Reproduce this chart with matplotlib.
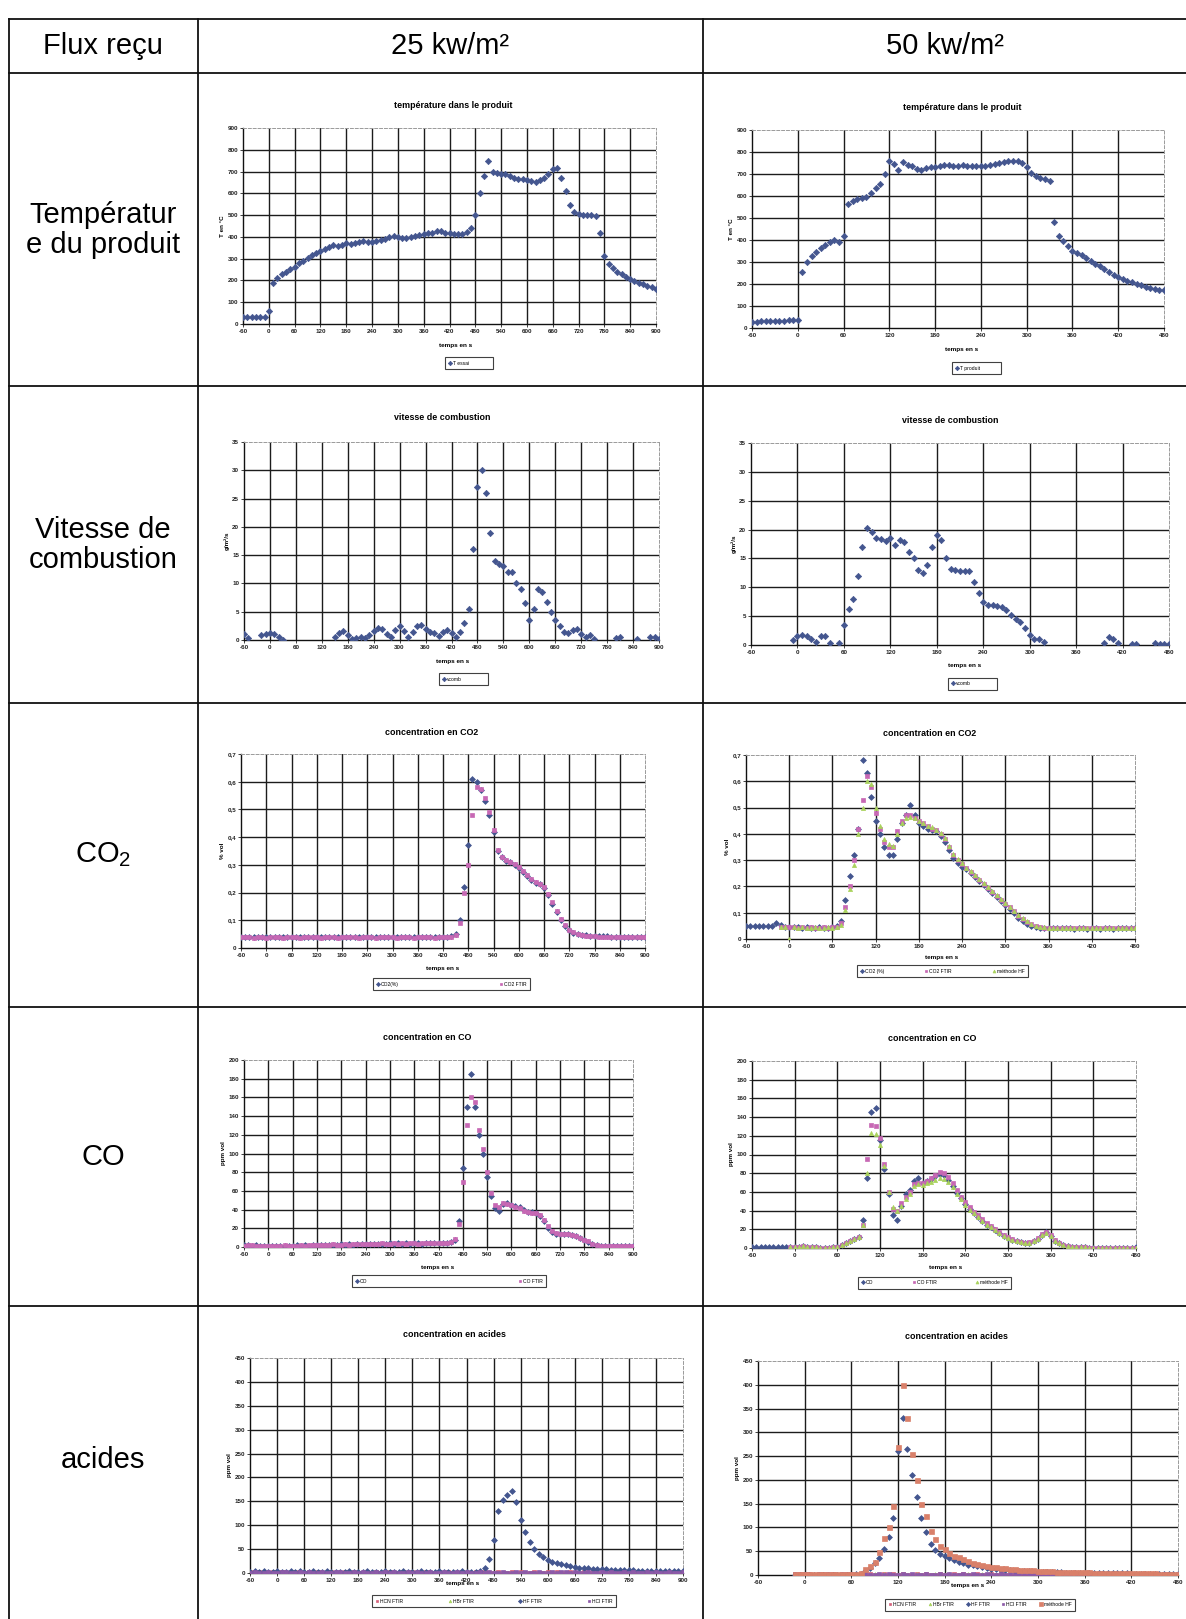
import numpy as np
import matplotlib
matplotlib.use('Agg')
import matplotlib.pyplot as plt

plt.rcParams['font.family'] = ['Liberation Sans', 'DejaVu Sans']
plt.rcParams['mathtext.fontset'] = 'custom'
plt.rcParams['mathtext.rm'] = 'Liberation Sans'

nan = float('nan')

# 25 kW/m2 tests: one reading every 10 s from -60 s ; 50 kW/m2 tests: every 6 s from -60 s
T0 = -60
STEP_25 = 10
STEP_50 = 6

# ---- temperature dans le produit (deg C)
temp_25 = [
    31, 30, 32, 31, 30, 32, 60, 190, 210, 228,         # -60 .. 30
    240, 252, 262, 280, 290, 302, 315, 325, 335, 345,  # 40 .. 130
    355, 362, 358, 365, 370, 368, 372, 375, 380, 378,  # 140 .. 230
    376, 382, 385, 392, 398, 402, 398, 395, 394, 400,  # 240 .. 330
    405, 410, 412, 416, 420, 428, 425, 420, 416, 414,  # 340 .. 430
    412, 415, 422, 440, 500, 600, 680, 750, 700, 695,  # 440 .. 530
    690, 688, 680, 670, 665, 668, 660, 655, 650, 660,  # 540 .. 630
    672, 690, 712, 718, 670, 610, 545, 512, 505, 500,  # 640 .. 730
    500, 502, 498, 420, 310, 275, 255, 240, 228, 218,  # 740 .. 830
    208, 198, 190, 182, 175, 168, 162,                 # 840 .. 900
]
temp_50 = [
    28, 29, 30, 30, 31, 32, 33, 34, 35, 36,            # -60 .. -6
    38, 255, 300, 325, 345, 362, 378, 390, 400, 392,   # 0 .. 54
    420, 565, 575, 585, 590, 595, 615, 635, 655, 700,  # 60 .. 114
    760, 745, 720, 755, 740, 738, 722, 718, 725, 730,  # 120 .. 174
    733, 738, 740, 740, 738, 738, 740, 738, 737, 736,  # 180 .. 234
    735, 738, 740, 745, 750, 755, 758, 760, 760, 752,  # 240 .. 294
    730, 705, 690, 682, 675, 668, 480, 420, 395, 372,  # 300 .. 354
    352, 342, 332, 320, 306, 293, 280, 268, 255, 243,  # 360 .. 414
    230, 222, 214, 207, 200, 194, 188, 182, 178, 174,  # 420 .. 474
    172,                                               # 480
]

# ---- vitesse de combustion (g/m2/s)
vit_25 = [
    1.0, 0.3, nan, nan, 0.8, 1.1, 1.3, 1.0, 0.5, 0.0,  # -60 .. 30
    nan, nan, nan, nan, nan, nan, nan, nan, nan, nan,  # 40 .. 130
    nan, 0.5, 1.2, 1.6, 0.9, 0.2, 0.4, 0.6, 0.3, 0.9,  # 140 .. 230
    1.6, 2.2, 2.0, 1.0, 0.5, 1.8, 2.4, 1.6, 0.6, 1.5,  # 240 .. 330
    2.5, 2.6, 2.0, 1.4, 1.2, 0.7, 1.4, 1.8, 1.2, 0.5,  # 340 .. 430
    1.5, 3.0, 5.5, 16, 27, 30, 26, 19, 14, 13.5,       # 440 .. 530
    13, 12, 12, 10, 9, 6.5, 3.5, 5.5, 9, 8.5,          # 540 .. 630
    6.8, 5, 3.5, 2.5, 1.5, 1.2, 1.8, 2, 1.0, 0.5,      # 640 .. 730
    0.8, 0.2, nan, nan, nan, nan, 0.3, 0.5, nan, nan,  # 740 .. 830
    nan, 0.2, nan, nan, 0.5, 0.6, 0.1,                 # 840 .. 900
]
vit_50 = [
    nan, nan, nan, nan, nan, nan, nan, nan, nan, 0.8,            # -60 .. -6
    1.6, 1.8, 1.5, 1.0, 0.6, 1.5, 1.6, 0.3, nan, 0.4,            # 0 .. 54
    3.5, 6.3, 8.0, 12, 17, 20.3, 19.5, 18.5, 18.3, 18.0,         # 60 .. 114
    18.5, 17.3, 18.2, 17.8, 16.2, 15.0, 13.0, 12.5, 13.8, 17.0,  # 120 .. 174
    19.0, 18.2, 15.0, 13.2, 13.0, 12.8, 12.8, 12.8, 11.0, 9.0,   # 180 .. 234
    7.5, 7.0, 7.0, 6.8, 6.6, 6.0, 5.2, 4.5, 4.0, 3.0,            # 240 .. 294
    1.8, 1.1, 1.0, 0.5, nan, nan, nan, nan, nan, nan,            # 300 .. 354
    nan, nan, nan, nan, nan, nan, 0.4, 1.3, 1.0, 0.4,            # 360 .. 414
    nan, nan, 0.2, 0.1, nan, nan, nan, 0.3, 0.1, 0.1,            # 420 .. 474
    0.1,                                                         # 480
]

# ---- concentration en CO2 (% vol)
co2_25 = [
    .040, .041, .039, .040, .041, .040, .039, .040, .041, .040,  # -60 .. 30
    .040, .039, .040, .041, .040, .040, .039, .040, .041, .040,  # 40 .. 130
    .041, .040, .039, .040, .041, .040, .040, .039, .040, .041,  # 140 .. 230
    .040, .039, .041, .040, .040, .041, .039, .040, .040, .041,  # 240 .. 330
    .040, .041, .040, .039, .040, .041, .040, .040, .041, .040,  # 340 .. 430
    .042, .050, .100, .220, .370, .610, .600, .570, .530, .480,  # 440 .. 530
    .420, .350, .330, .315, .310, .300, .290, .275, .260, .245,  # 540 .. 630
    .235, .230, .215, .190, .160, .130, .100, .080, .065, .055,  # 640 .. 730
    .050, .048, .046, .045, .044, .043, .042, .042, .041, .041,  # 740 .. 830
    .041, .040, .041, .040, .041, .040, .040,                    # 840 .. 900
]
co2_ftir_25 = [
    .038, .039, .038, .037, .039, .038, .037, .038, .039, .038,  # -60 .. 30
    .037, .038, .039, .038, .037, .038, .039, .038, .038, .037,  # 40 .. 130
    .038, .039, .038, .037, .038, .039, .038, .038, .037, .038,  # 140 .. 230
    .039, .038, .037, .038, .039, .038, .038, .037, .039, .038,  # 240 .. 330
    .038, .037, .038, .039, .038, .038, .037, .038, .039, .038,  # 340 .. 430
    .040, .047, .090, .200, .300, .480, .580, .575, .540, .490,  # 440 .. 530
    .425, .355, .328, .318, .312, .302, .292, .278, .262, .248,  # 540 .. 630
    .238, .232, .220, .195, .165, .135, .105, .082, .066, .056,  # 640 .. 730
    .050, .046, .044, .043, .042, .041, .040, .040, .039, .039,  # 740 .. 830
    .039, .038, .039, .038, .039, .038, .039,                    # 840 .. 900
]
co2_50 = [
    .048, .048, .049, .048, .049, .048, .050, .060, .052, .046,  # -60 .. -6
    .045, .044, .044, .043, .044, .043, .043, .044, .043, .043,  # 0 .. 54
    .044, .048, .070, .150, .240, .320, .420, .680, .630, .540,  # 60 .. 114
    .450, .400, .350, .320, .320, .380, .440, .470, .510, .470,  # 120 .. 174
    .440, .430, .420, .415, .410, .390, .370, .340, .310, .290,  # 180 .. 234
    .275, .265, .250, .235, .220, .205, .190, .175, .160, .145,  # 240 .. 294
    .130, .115, .100, .078, .068, .058, .050, .046, .043, .042,  # 300 .. 354
    .041, .040, .040, .041, .040, .040, .039, .040, .040, .039,  # 360 .. 414
    .040, .040, .039, .040, .040, .039, .040, .040, .040, .040,  # 420 .. 474
    .040,                                                        # 480
]
co2_ftir_50 = [
    nan, nan, nan, nan, nan, nan, nan, nan, .046, .045,          # -60 .. -6
    .044, .044, .043, .044, .043, .044, .043, .043, .044, .043,  # 0 .. 54
    .044, .045, .060, .120, .200, .300, .420, .530, .620, .580,  # 60 .. 114
    .480, .420, .370, .350, .350, .410, .450, .470, .470, .460,  # 120 .. 174
    .450, .440, .430, .420, .415, .400, .380, .350, .320, .300,  # 180 .. 234
    .285, .270, .255, .240, .225, .210, .195, .180, .165, .150,  # 240 .. 294
    .135, .120, .105, .088, .076, .065, .056, .049, .045, .043,  # 300 .. 354
    .042, .041, .041, .040, .041, .040, .040, .041, .040, .040,  # 360 .. 414
    .040, .041, .040, .040, .041, .040, .040, .041, .040, .040,  # 420 .. 474
    .041,                                                        # 480
]
co2_hf_50 = [
    nan, nan, nan, nan, nan, nan, nan, nan, .047, .046,          # -60 .. -6
    .000, .044, .043, .044, .043, .043, .044, .043, .043, .044,  # 0 .. 54
    .043, .044, .055, .110, .190, .280, .400, .500, .600, .590,  # 60 .. 114
    .500, .430, .380, .360, .355, .400, .440, .460, .465, .460,  # 120 .. 174
    .450, .440, .430, .425, .415, .405, .385, .355, .325, .305,  # 180 .. 234
    .288, .272, .258, .243, .228, .213, .198, .183, .168, .153,  # 240 .. 294
    .138, .123, .108, .092, .080, .068, .058, .051, .046, .044,  # 300 .. 354
    .043, .042, .041, .041, .040, .041, .040, .040, .041, .040,  # 360 .. 414
    .040, .040, .041, .040, .040, .040, .041, .040, .040, .041,  # 420 .. 474
    .040,                                                        # 480
]

# ---- concentration en CO (ppm vol)
co_25 = [
    2, 2, 1.5, 2, 1.5, 1, 1.5, 1, 1, 1.5,          # -60 .. 30
    1.5, 1, 1.5, 2, 1.5, 2, 1.5, 2, 2, 2.5,        # 40 .. 130
    2, 2.5, 2, 2.5, 3, 2.5, 3, 2.5, 3, 3,          # 140 .. 230
    3, 3.5, 3, 3.5, 3, 3.5, 4, 3.5, 4, 3.5,        # 240 .. 330
    4, 3.5, 4, 4, 3.5, 4, 4, 4.5, 4, 4.5,          # 340 .. 430
    4.5, 5, 8, 28, 85, 150, 185, 150, 120, 100,    # 440 .. 530
    75, 55, 42, 38, 46, 47, 45, 44, 43, 40,        # 540 .. 630
    37, 37, 36, 33, 28, 20, 16, 14, 14, 14,        # 640 .. 730
    14, 13, 12, 10, 8, 5, 3, 2, 1.5, 1.5,          # 740 .. 830
    1, 1, 1, 1.5, 1, 1, 1,                         # 840 .. 900
]
co_ftir_25 = [
    1.5, 2, 2, 1.5, 1, 1.5, 1, 1.5, 1.5, 1,        # -60 .. 30
    2, 1.5, 1, 1.5, 2, 1.5, 2, 2.5, 2, 2,          # 40 .. 130
    2.5, 2, 3, 2.5, 2, 3, 2.5, 3, 3.5, 3,          # 140 .. 230
    3.5, 3, 3.5, 3, 4, 3.5, 3, 4, 3.5, 4,          # 240 .. 330
    3.5, 4, 4.5, 3.5, 4, 4.5, 4, 4, 4.5, 4,        # 340 .. 430
    4, 5, 9, 25, 70, 130, 160, 155, 125, 105,      # 440 .. 530
    80, 58, 45, 43, 47, 46, 45, 43, 42, 39,        # 540 .. 630
    37, 36, 36, 34, 29, 22, 17, 15, 14, 14,        # 640 .. 730
    14, 13, 12, 10, 8, 6, 3.5, 2, 1.5, 1,          # 740 .. 830
    1.5, 1, 1, 1, 1.5, 1, 1,                       # 840 .. 900
]
co_50 = [
    1, 1, 1, 1, 1, 1, 1, 1, 1, 1,                  # -60 .. -6
    1.5, 1.5, 2, 1.5, 1, 1, 0.5, 0.5, 0.5, 1,      # 0 .. 54
    1.5, 3, 5, 8, 10, 12, 30, 75, 145, 150,        # 60 .. 114
    115, 85, 58, 35, 30, 45, 58, 62, 72, 75,       # 120 .. 174
    70, 72, 74, 77, 79, 78, 73, 66, 59, 53,        # 180 .. 234
    47, 42, 37, 33, 29, 25, 22, 19, 16, 13,        # 240 .. 294
    11, 9, 7, 6, 5, 5.5, 7, 10, 14, 17,            # 300 .. 354
    13, 8, 5, 3, 2, 1.5, 1, 1, 0.8, 0.5,           # 360 .. 414
    0.5, 0.5, 0.5, 0.5, 0.5, 0.5, 0.5, 0.5, 0.5, 0.5,  # 420 .. 474
    1,                                             # 480
]
co_ftir_50 = [
    nan, nan, nan, nan, nan, nan, nan, nan, nan, 1,    # -60 .. -6
    1.5, 1.5, 2, 1.5, 1, 1, 0.5, 0.5, 0.5, 1,      # 0 .. 54
    1.5, 3, 5, 8, 10, 12, 25, 95, 132, 130,        # 60 .. 114
    118, 90, 60, 42, 40, 48, 55, 60, 68, 70,       # 120 .. 174
    70, 72, 75, 78, 81, 80, 76, 69, 62, 55,        # 180 .. 234
    49, 44, 39, 35, 31, 27, 23, 20, 17, 14,        # 240 .. 294
    12, 10, 8, 6.5, 5.5, 6, 7.5, 11, 15, 17,       # 300 .. 354
    14, 9, 5.5, 3.5, 2.5, 1.5, 1, 1, 0.8, 0.5,     # 360 .. 414
    0.5, 0.5, 0.5, 0.5, 0.5, 0.5, 0.5, 0.5, 0.5, 0.5,  # 420 .. 474
    0.5,                                           # 480
]
co_hf_50 = [
    nan, nan, nan, nan, nan, nan, nan, nan, nan, 1,    # -60 .. -6
    1.5, 1.5, 2, 1.5, 1, 1, 0.5, 0.5, 0.5, 1,      # 0 .. 54
    1.5, 3, 5, 8, 10, 12, 25, 80, 123, 122,        # 60 .. 114
    110, 88, 60, 44, 40, 45, 52, 58, 66, 68,       # 120 .. 174
    67, 69, 71, 73, 75, 74, 71, 65, 58, 52,        # 180 .. 234
    46, 41, 37, 33, 29, 25, 22, 19, 16, 13,        # 240 .. 294
    11, 9, 7, 6, 5, 5.5, 7, 10, 14, 16,            # 300 .. 354
    13, 8, 5, 3, 2, 1.5, 1, 0.8, 0.6, 0.5,         # 360 .. 414
    0.5, 0.5, 0.5, 0.5, 0.5, 0.5, 0.5, 0.5, 0.5, 0.5,  # 420 .. 474
    0.5,                                           # 480
]

# ---- concentration en acides (ppm vol)
hcn_25 = [
    2, 1, 2, 1, 1, 2, 1, 2, 1, 1,      # -60 .. 30
    2, 1, 1, 2, 1, 2, 1, 1, 2, 1,      # 40 .. 130
    1, 2, 1, 2, 1, 1, 2, 1, 2, 1,      # 140 .. 230
    1, 2, 1, 1, 2, 1, 2, 1, 1, 2,      # 240 .. 330
    1, 1, 2, 1, 2, 1, 1, 2, 1, 1,      # 340 .. 430
    2, 1, 2, 1, 1, 2, 1, 1, 2, 1,      # 440 .. 530
    2, 1, 1, 2, 1, 1, 2, 1, 2, 1,      # 540 .. 630
    1, 2, 1, 1, 2, 1, 2, 1, 1, 2,      # 640 .. 730
    1, 2, 1, 1, 2, 1, 1, 2, 1, 2,      # 740 .. 830
    1, 1, 2, 1, 2, 1, 1,               # 840 .. 900
]
hbr_25 = [
    0, 1, 0, 0, 1, 0, 0, 1, 0, 0,      # -60 .. 30
    1, 0, 3, 0, 1, 0, 0, 1, 0, 0,      # 40 .. 130
    0, 1, 0, 0, 1, 0, 0, 1, 0, 0,      # 140 .. 230
    1, 0, 0, 1, 0, 0, 3, 0, 1, 0,      # 240 .. 330
    0, 1, 0, 0, 1, 0, 0, 1, 0, 0,      # 340 .. 430
    1, 0, 0, 2, 0, 1, 0, 0, 1, 0,      # 440 .. 530
    0, 1, 0, 0, 1, 0, 0, 1, 0, 0,      # 540 .. 630
    1, 0, 0, 3, 0, 1, 0, 0, 1, 0,      # 640 .. 730
    0, 1, 0, 0, 1, 0, 0, 1, 0, 0,      # 740 .. 830
    1, 0, 0, 1, 0, 0, 1,               # 840 .. 900
]
hf_25 = [
    3, 4, 3, 4, 3, 3, 4, 3, 3, 4,                  # -60 .. 30
    3, 4, 3, 3, 4, 3, 3, 4, 3, 3,                  # 40 .. 130
    3, 3, 4, 3, 3, 3, 4, 3, 3, 3,                  # 140 .. 230
    4, 3, 3, 3, 4, 3, 3, 3, 4, 3,                  # 240 .. 330
    3, 3, 4, 3, 3, 3, 3, 4, 3, 3,                  # 340 .. 430
    3, 4, 10, 30, 70, 130, 152, 163, 172, 148,     # 440 .. 530
    110, 85, 65, 50, 40, 34, 28, 24, 21, 18,       # 540 .. 630
    16, 14, 12.5, 11.5, 10.5, 9.5, 9, 8.5, 8, 7.5, # 640 .. 730
    7, 6.5, 6, 6, 5.5, 5.5, 5, 5, 4.5, 4.5,        # 740 .. 830
    4, 4, 4, 4, 4, 4, 4,                           # 840 .. 900
]
hcl_25 = [
    1, 2, 1, 1, 2, 1, 1, 2, 2, 1,      # -60 .. 30
    1, 2, 1, 2, 1, 1, 2, 1, 1, 2,      # 40 .. 130
    2, 1, 1, 2, 1, 2, 1, 1, 2, 1,      # 140 .. 230
    2, 1, 2, 1, 1, 2, 1, 2, 1, 1,      # 240 .. 330
    2, 1, 1, 2, 1, 1, 2, 1, 2, 1,      # 340 .. 430
    1, 2, 1, 2, 1, 1, 2, 1, 1, 2,      # 440 .. 530
    1, 2, 1, 1, 2, 1, 1, 2, 1, 2,      # 540 .. 630
    2, 1, 2, 1, 1, 2, 1, 1, 2, 1,      # 640 .. 730
    2, 1, 1, 2, 1, 2, 1, 1, 2, 1,      # 740 .. 830
    2, 1, 1, 2, 1, 1, 2,               # 840 .. 900
]
hcn_50 = [
    nan, nan, nan, nan, nan, nan, nan, nan, 1, 2,  # -60 .. -6
    1, 2, 1, 1, 2, 1, 2, 1, 1, 2,                  # 0 .. 54
    1, 1, 2, 1, 2, 1, 1, 2, 1, 2,                  # 60 .. 114
    1, 2, 1, 1, 2, 1, 2, 1, 1, 2,                  # 120 .. 174
    1, 1, 2, 1, 2, 1, 1, 2, 1, 1,                  # 180 .. 234
    2, 1, 2, 1, 1, 2, 1, 1, 2, 1,                  # 240 .. 294
    1, 2, 1, 1, 2, 1, 2, 1, 1, 2,                  # 300 .. 354
    1, 1, 2, 1, 2, 1, 1, 2, 1, 1,                  # 360 .. 414
    2, 1, 1, 2, 1, 2, 1, 1, 2, 1,                  # 420 .. 474
    1,                                             # 480
]
hbr_50 = [
    nan, nan, nan, nan, nan, nan, nan, nan, nan, nan,  # -60 .. -6
    nan, nan, nan, nan, nan, nan, nan, nan, nan, nan,  # 0 .. 54
    nan, nan, nan, nan, 1, 2, 1, 2, 1, 0,              # 60 .. 114
    1, 2, 1, 1, 2, 1, 0, 1, 2, 1,                      # 120 .. 174
    1, 2, 1, 0, 1, 2, 1, 1, 2, 1,                      # 180 .. 234
    0, 1, 2, 1, 1, 0, 2, 1, 1, 2,                      # 240 .. 294
    1, 0, 1, 2, 1, 1, 2, 1, 0, 1,                      # 300 .. 354
    2, nan, nan, nan, nan, nan, nan, nan, nan, nan,    # 360 .. 414
    nan, nan, nan, nan, nan, nan, nan, nan, nan, nan,  # 420 .. 474
    nan,                                               # 480
]
hf_50 = [
    nan, nan, nan, nan, nan, nan, nan, nan, 1, 1,      # -60 .. -6
    1, 1, 1, 1, 1, 1, 1, 1, 1, 1,                      # 0 .. 54
    1, 2, 3, 8, 15, 25, 35, 55, 80, 120,               # 60 .. 114
    260, 330, 265, 210, 165, 120, 90, 65, 52, 45,      # 120 .. 174
    40, 35, 31, 28, 25, 22, 20, 18, 16, 14.5,          # 180 .. 234
    13, 12, 11, 10, 9.5, 9, 8.5, 8, 7.5, 7,            # 240 .. 294
    7, 6.5, 6, 6, 5.5, 5.5, 5, 5, 5, 4.5,              # 300 .. 354
    4.5, 4.5, 4, 4, 4, 4, 3.5, 3.5, 3.5, 3.5,          # 360 .. 414
    3, 3, 3, 3, 3, 3, 3, 2.5, 2.5, 2.5,                # 420 .. 474
    2.5,                                               # 480
]
hcl_50 = [
    nan, nan, nan, nan, nan, nan, nan, nan, 2, 1,      # -60 .. -6
    2, 1, 1, 2, 1, 2, 1, 1, 2, 1,                      # 0 .. 54
    2, 1, 1, 2, 1, 1, 2, 1, 2, 1,                      # 60 .. 114
    1, 2, 1, 2, 1, 1, 2, 1, 1, 2,                      # 120 .. 174
    1, 2, 1, 1, 2, 1, 2, 1, 1, 2,                      # 180 .. 234
    1, 1, 2, 1, 2, 1, 1, 2, 1, 1,                      # 240 .. 294
    2, 1, 2, 1, 1, 2, 1, 1, 2, 1,                      # 300 .. 354
    1, 2, 1, 1, 2, 1, 2, 1, 1, 2,                      # 360 .. 414
    1, 1, 2, 1, 2, 1, 1, 2, 1, 1,                      # 420 .. 474
    2,                                                 # 480
]
meth_hf_50 = [
    nan, nan, nan, nan, nan, nan, nan, nan, 2, 2,      # -60 .. -6
    2, 2, 2, 2, 2, 2, 2, 2, 2, 2,                      # 0 .. 54
    2, 3, 4, 12, 19, 28, 48, 78, 100, 145,             # 60 .. 114
    270, 400, 330, 255, 200, 150, 125, 92, 76, 60,     # 120 .. 174
    54, 47, 41, 37, 33, 29, 26, 23, 21, 19,            # 180 .. 234
    17, 16, 15, 14, 13, 12, 11, 10.5, 10, 9.5,         # 240 .. 294
    9, 8.5, 8, 7.5, 7, 7, 6.5, 6.5, 6, 6,              # 300 .. 354
    5.5, 5.5, 5, 5, 5, 5, 4.5, 4.5, 4, 4,              # 360 .. 414
    4, 4, 3.5, 3.5, 3.5, 3.5, 3, 3, 3, 3,              # 420 .. 474
    3,                                                 # 480
]

row_labels = ['Températur\ne du produit', 'Vitesse de\ncombustion', 'CO$_2$', 'CO', 'acides']
col_labels = ['Flux reçu', '25 kw/m²', '50 kw/m²']

BLUE = '#44568f'
PINK = '#c768b4'
GREEN = '#a9d25c'
RED = '#d4607a'
PURPLE = '#8c5aa8'
SALMON = '#d9806a'

W, H = 1186, 1619
fig = plt.figure(figsize=(W / 100, H / 100), dpi=100)
bg = fig.add_axes([0, 0, 1, 1])
bg.set_xlim(0, W)
bg.set_ylim(H, 0)
bg.axis('off')

# table grid
for x in [9, 198, 703]:
    bg.plot([x, x], [19, H], color='#111111', lw=1.3)
for y in [19, 73, 386, 703, 1007, 1306]:
    bg.plot([9, W], [y, y], color='#111111', lw=1.3)

bg.text(103, 46, col_labels[0], fontsize=21, ha='center', va='center')
bg.text(450, 46, col_labels[1], fontsize=21, ha='center', va='center')
bg.text(945, 46, col_labels[2], fontsize=21, ha='center', va='center')
for lab, yc in zip(row_labels, [230, 545, 855, 1157, 1460]):
    bg.text(103, yc, lab, fontsize=21, ha='center', va='center', linespacing=1.1)


def chart(box, title, title_xy, xlab_xy, leg_box, xmax, ymax, ystep, ylab,
          series, step, comma=False, xlab_white=False):
    l, t, r, b = box
    ax = fig.add_axes([l / W, 1 - b / H, (r - l) / W, (b - t) / H])
    for vals, color, marker, ms, label in series:
        tt = T0 + step * np.arange(len(vals))
        ax.plot(tt, np.array(vals, dtype=float), ls='none', marker=marker, ms=ms,
                color=color, mec=color, mew=0.5, label=label, zorder=3)
    ax.set_xlim(-60, xmax)
    ax.set_ylim(0, ymax)
    xt = np.arange(-60, xmax + 1, 60)
    yt = np.arange(0, ymax + ystep / 2, ystep)
    for v in xt[1:-1]:
        ax.axvline(v, color='#1c1c1c', lw=1.0, zorder=1)
    for v in yt[1:-1]:
        ax.axhline(v, color='#1c1c1c', lw=1.0, zorder=1)
    ax.set_xticks(xt)
    ax.set_xticklabels([str(v) for v in xt])
    ax.set_yticks(yt)
    if comma:
        ax.set_yticklabels(['0' if v == 0 else f'{v:.1f}'.replace('.', ',') for v in yt])
    else:
        ax.set_yticklabels([str(int(round(v))) for v in yt])
    ax.tick_params(labelsize=4.5, length=2, width=0.6, pad=1.5, colors='#222222')
    for lab in ax.get_xticklabels() + ax.get_yticklabels():
        lab.set_fontweight('bold')
    for s in ['left', 'bottom']:
        ax.spines[s].set_color('#111111')
        ax.spines[s].set_linewidth(1.0)
    for s in ['top', 'right']:
        ax.spines[s].set_color('#9a9a9a')
        ax.spines[s].set_linestyle((0, (3, 2)))
        ax.spines[s].set_linewidth(0.7)
    ax.set_ylabel(ylab, fontsize=4.5, fontweight='bold', labelpad=2)
    bg.text(title_xy[0], title_xy[1], title, fontsize=6.4, fontweight='bold',
            ha='center', va='center')
    bb = dict(boxstyle='square,pad=0.1', fc='white', ec='none') if xlab_white else None
    bg.text(xlab_xy[0], xlab_xy[1], 'temps en s', fontsize=4.6, fontweight='bold',
            ha='center', va='center', bbox=bb, zorder=5)
    ll, lt, lr, lb = leg_box
    leg = ax.legend(loc='center', bbox_to_anchor=(ll / W, 1 - lb / H, (lr - ll) / W, (lb - lt) / H),
                    bbox_transform=fig.transFigure, mode='expand', ncol=len(series),
                    fontsize=3.6, frameon=True, fancybox=False, edgecolor='#111111',
                    borderpad=0.7, handlelength=0.6, handletextpad=0.3, markerscale=0.7,
                    borderaxespad=0)
    leg.get_frame().set_linewidth(0.8)
    return ax


chart((243, 128, 656, 324), 'température dans le produit', (453, 105), (456, 346),
      (445, 358, 493, 369), 900, 900, 100, 'T en °C',
      [(temp_25, BLUE, 'D', 3.2, 'T essai')], STEP_25)
chart((752, 130, 1164, 328), 'température dans le produit', (962, 107), (962, 350),
      (952, 363, 1001, 374), 480, 900, 100, 'T en °C',
      [(temp_50, BLUE, 'D', 3.2, 'T produit')], STEP_50)

chart((244, 442, 659, 640), 'vitesse de combustion', (442, 417), (453, 661),
      (439, 673, 488, 685), 900, 35, 5, 'g/m²/s',
      [(vit_25, BLUE, 'D', 3.2, 'vcomb')], STEP_25)
chart((751, 443, 1169, 645), 'vitesse de combustion', (950, 420), (965, 665),
      (948, 678, 997, 689), 480, 35, 5, 'g/m²/s',
      [(vit_50, BLUE, 'D', 3.2, 'vcomb')], STEP_50)

chart((241, 754, 645, 948), 'concentration en CO2', (432, 732), (443, 968),
      (373, 979, 530, 990), 900, 0.7, 0.1, '% vol',
      [(co2_25, BLUE, 'D', 3.0, 'CO2(%)'),
       (co2_ftir_25, PINK, 's', 2.7, 'CO2 FTIR')], STEP_25, comma=True)
chart((746, 755, 1135, 939), 'concentration en CO2', (930, 733), (942, 957),
      (857, 963, 1028, 979), 480, 0.7, 0.1, '% vol',
      [(co2_50, BLUE, 'D', 3.0, 'CO2 (%)'),
       (co2_ftir_50, PINK, 's', 2.7, 'CO2 FTIR'),
       (co2_hf_50, GREEN, '^', 3.0, 'méthode HF')], STEP_50, comma=True)

chart((244, 1060, 633, 1247), 'concentration en CO', (427, 1037), (438, 1267),
      (352, 1273, 546, 1289), 900, 200, 20, 'ppm vol',
      [(co_25, BLUE, 'D', 3.0, 'CO'),
       (co_ftir_25, PINK, 's', 2.7, 'CO FTIR')], STEP_25)
chart((752, 1061, 1136, 1248), 'concentration en CO', (932, 1038), (946, 1267),
      (858, 1274, 1011, 1291), 480, 200, 20, 'ppm vol',
      [(co_50, BLUE, 'D', 3.0, 'CO'),
       (co_ftir_50, PINK, 's', 2.7, 'CO FTIR'),
       (co_hf_50, GREEN, '^', 3.0, 'méthode HF')], STEP_50)

chart((250, 1358, 683, 1573), 'concentration en acides', (454, 1334), (463, 1583),
      (372, 1595, 616, 1607), 900, 450, 50, 'ppm vol',
      [(hcn_25, RED, 's', 2.5, 'HCN FTIR'),
       (hbr_25, GREEN, '^', 2.7, 'HBr FTIR'),
       (hf_25, BLUE, 'D', 3.0, 'HF FTIR'),
       (hcl_25, PURPLE, 's', 2.3, 'HCl FTIR')], STEP_25, xlab_white=True)
chart((758, 1361, 1178, 1575), 'concentration en acides', (956, 1336), (968, 1585),
      (885, 1598, 1075, 1611), 480, 450, 50, 'ppm vol',
      [(hcn_50, RED, 's', 2.5, 'HCN FTIR'),
       (hbr_50, GREEN, '^', 2.7, 'HBr FTIR'),
       (hf_50, BLUE, 'D', 3.0, 'HF FTIR'),
       (hcl_50, PURPLE, 's', 2.3, 'HCl FTIR'),
       (meth_hf_50, SALMON, 's', 3.6, 'méthode HF')], STEP_50, xlab_white=True)

fig.savefig('out.png', dpi=100)
